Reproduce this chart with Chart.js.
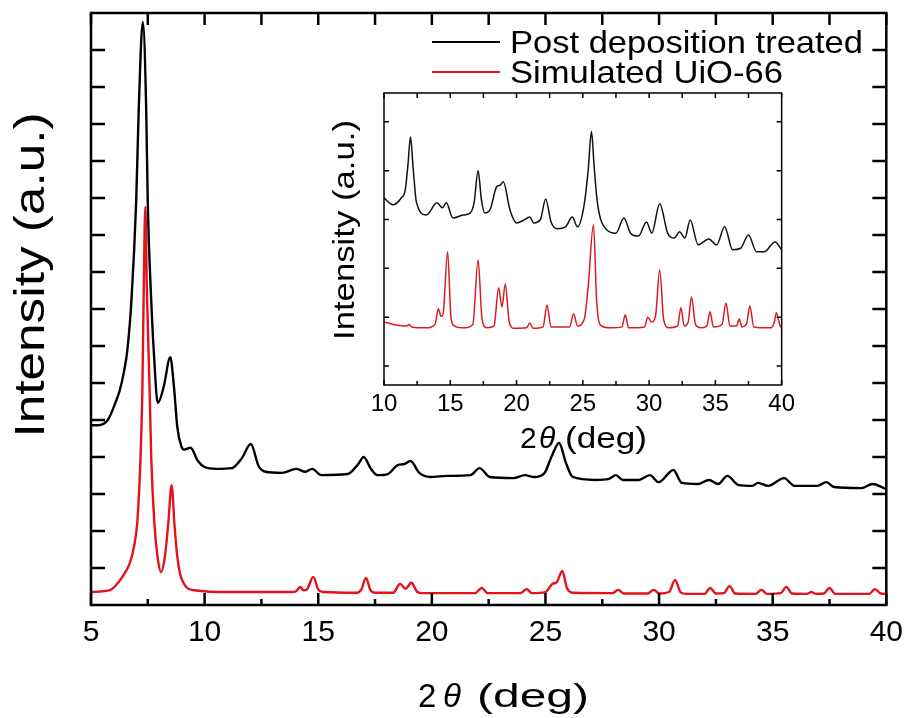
<!DOCTYPE html>
<html>
<head>
<meta charset="utf-8">
<script src="https://cdn.jsdelivr.net/npm/chart.js@4.4.1/dist/chart.umd.min.js"></script>
<style>
  body { margin: 0; background: #fff; }
  #wrap { position: relative; width: 913px; height: 718px; }
  #main { position: absolute; left: 0; top: 0; }
  #inset { position: absolute; left: 325px; top: 85px; }
</style>
</head>
<body>
<div id="wrap">
  <canvas id="main" width="913" height="718"></canvas>
  <canvas id="inset" width="475" height="370"></canvas>
</div>
<script>
const FONT = "'Liberation Sans', Arial, sans-serif";

// main panel: post deposition treated film (black)
const mainBlackX = [5.0, 5.3, 5.74, 6.12, 6.27, 6.45, 6.6, 6.78, 6.99, 7.1, 7.28, 7.43, 7.5, 7.65, 7.76, 7.94, 8.2, 8.49, 8.65, 8.8,
  8.97, 9.1, 9.38, 9.7, 10.0, 10.5, 11.2, 11.64, 12.03, 12.38, 12.68, 13.4, 14.04, 14.43, 14.74, 15.13, 16.3, 16.75, 17.0, 17.3,
  17.6, 18.06, 18.5, 18.8, 19.06, 19.45, 19.93, 20.68, 21.7, 22.1, 22.55, 23.6, 24.1, 24.5, 24.96, 25.26, 25.6, 25.9, 26.2, 27.2,
  27.8, 28.1, 28.4, 29.1, 29.6, 29.98, 30.63, 31.0, 31.7, 32.2, 32.6, 33.0, 33.5, 34.1, 34.35, 34.8, 35.5, 35.96, 36.96, 37.36,
  37.7, 38.9, 39.4, 39.9, 40.0];
const mainBlackY = [4.86, 4.86, 5.0, 5.54, 5.81, 6.3, 6.89, 8.24, 10.95, 13.38, 15.76, 13.38, 10.8, 8.24, 6.89, 5.46, 5.9, 6.7, 5.9, 4.8,
  4.3, 4.2, 4.25, 3.9, 3.73, 3.68, 3.7, 3.97, 4.35, 3.75, 3.6, 3.57, 3.68, 3.6, 3.68, 3.51, 3.54, 3.8, 4.0, 3.7,
  3.51, 3.54, 3.78, 3.81, 3.89, 3.57, 3.46, 3.49, 3.51, 3.7, 3.46, 3.43, 3.51, 3.46, 3.57, 4.0, 4.38, 3.84, 3.46, 3.38,
  3.41, 3.51, 3.38, 3.38, 3.51, 3.32, 3.65, 3.3, 3.27, 3.38, 3.27, 3.49, 3.24, 3.22, 3.3, 3.22, 3.43, 3.22, 3.22, 3.32,
  3.19, 3.16, 3.27, 3.16, 3.14];

// main panel: simulated UiO-66 (red)
const mainRedX = [5.0, 5.83, 6.05, 6.4, 6.7, 6.9, 7.04, 7.11, 7.18, 7.26, 7.32, 7.39, 7.46, 7.58, 7.65, 7.79, 7.93, 8.08, 8.25, 8.4,
  8.55, 8.67, 8.8, 8.96, 9.54, 11.2, 13.8, 14.05, 14.2, 14.35, 14.5, 14.78, 15.0, 15.2, 16.7, 16.9, 17.1, 17.3, 17.5, 18.3,
  18.6, 18.84, 19.1, 19.35, 19.6, 21.9, 22.2, 22.45, 23.9, 24.17, 24.4, 25.0, 25.3, 25.5, 25.74, 25.95, 26.2, 27.95, 28.2, 28.45,
  29.5, 29.76, 30.0, 30.45, 30.7, 30.95, 31.2, 32.0, 32.25, 32.5, 32.85, 33.1, 33.35, 34.25, 34.5, 34.75, 35.35, 35.6, 35.85, 36.5,
  36.7, 36.9, 37.25, 37.5, 37.75, 39.25, 39.5, 39.75, 40.0];
const mainRedY = [0.35, 0.4, 0.5, 0.78, 1.12, 1.6, 2.25, 3.0, 4.0, 5.8, 8.5, 10.76, 8.5, 5.8, 4.0, 2.2, 1.3, 0.89, 1.3, 2.2,
  3.24, 2.2, 1.3, 0.76, 0.4, 0.35, 0.35, 0.38, 0.49, 0.4, 0.42, 0.76, 0.42, 0.35, 0.33, 0.42, 0.73, 0.4, 0.33, 0.33,
  0.57, 0.44, 0.6, 0.36, 0.32, 0.32, 0.46, 0.32, 0.32, 0.43, 0.32, 0.35, 0.57, 0.62, 0.92, 0.45, 0.33, 0.32, 0.41, 0.31,
  0.31, 0.41, 0.31, 0.36, 0.68, 0.34, 0.3, 0.3, 0.46, 0.31, 0.32, 0.51, 0.31, 0.3, 0.41, 0.3, 0.32, 0.49, 0.31, 0.3,
  0.35, 0.3, 0.31, 0.46, 0.3, 0.3, 0.43, 0.31, 0.3];

// inset: 10-40 deg zoom
const insetBlackX = [10.0, 10.68, 11.3, 11.6, 11.8, 12.0, 12.2, 12.45, 13.2, 14.0, 14.4, 14.7, 15.2, 15.96, 16.5, 16.8, 17.1, 17.35, 17.6, 18.0,
  18.5, 18.75, 19.0, 19.5, 20.0, 20.5, 21.0, 21.3, 21.8, 22.2, 22.6, 23.1, 23.7, 24.2, 24.6, 25.1, 25.4, 25.65, 25.85, 26.1,
  26.8, 27.5, 28.1, 28.6, 29.2, 29.8, 30.2, 30.8, 31.4, 31.9, 32.3, 32.7, 33.1, 33.7, 34.5, 35.1, 35.7, 36.3, 36.9, 37.5,
  38.1, 38.7, 39.5, 40.0];
const insetBlackY = [3.44, 3.3, 3.44, 3.6, 4.1, 4.69, 4.05, 3.35, 3.09, 3.34, 3.24, 3.34, 3.03, 3.09, 3.13, 3.35, 4.0, 3.4, 3.13, 3.2,
  3.67, 3.7, 3.77, 3.2, 2.93, 2.98, 3.05, 2.93, 3.0, 3.42, 2.95, 2.81, 2.85, 3.05, 2.85, 3.3, 4.0, 4.8, 4.1, 3.34,
  2.79, 2.72, 3.03, 2.72, 2.66, 2.95, 2.72, 3.32, 2.72, 2.62, 2.75, 2.62, 2.99, 2.48, 2.6, 2.48, 2.85, 2.38, 2.41, 2.68,
  2.34, 2.34, 2.54, 2.38];
const insetRedX = [10.0, 10.9, 11.7, 11.9, 12.1, 13.2, 13.85, 14.1, 14.3, 14.45, 14.8, 15.05, 15.3, 16.0, 16.7, 17.1, 17.4, 17.8, 18.3, 18.65,
  18.9, 19.15, 19.45, 19.8, 20.75, 21.0, 21.25, 22.0, 22.3, 22.6, 24.0, 24.3, 24.6, 25.1, 25.4, 25.8, 26.05, 26.4, 27.0, 27.95,
  28.2, 28.45, 29.65, 29.9, 30.2, 30.5, 30.8, 31.1, 31.5, 32.15, 32.4, 32.65, 32.95, 33.2, 33.5, 33.9, 34.35, 34.6, 34.85, 35.5,
  35.8, 36.1, 36.6, 36.8, 37.0, 37.35, 37.6, 37.9, 39.2, 39.45, 39.6, 39.85, 40.0];
const insetRedY = [0.9, 0.84, 0.82, 0.85, 0.8, 0.78, 0.85, 1.17, 1.02, 1.05, 2.34, 1.0, 0.82, 0.78, 0.85, 2.17, 0.95, 0.78, 0.82, 1.6,
  1.21, 1.68, 0.9, 0.77, 0.78, 0.88, 0.77, 0.8, 1.25, 0.8, 0.8, 1.07, 0.82, 0.95, 1.62, 2.89, 1.3, 0.82, 0.78, 0.8,
  1.05, 0.78, 0.8, 1.0, 0.9, 1.05, 1.97, 0.95, 0.78, 0.82, 1.19, 0.82, 0.9, 1.41, 0.85, 0.78, 0.82, 1.11, 0.8, 0.85,
  1.29, 0.82, 0.82, 0.96, 0.8, 0.86, 1.23, 0.8, 0.78, 0.9, 1.09, 0.85, 0.78];

const seriesNames = ['Post deposition treated', 'Simulated UiO-66'];
const mainXTicks = [5, 10, 15, 20, 25, 30, 35, 40];
const mainYTicks = [1, 2, 3, 4, 5, 6, 7, 8, 9, 10, 11, 12, 13, 14, 15];
const insetXTicks = [10, 15, 20, 25, 30, 35, 40];
const insetYTicks = [0, 1, 2, 3, 4, 5];

const pts = (xs, ys) => xs.map((x, i) => ({ x: x, y: ys[i] }));

// frame + inward ticks on all four sides
const framePlugin = {
  id: 'frame',
  afterDatasetsDraw(chart, args, o) {
    const { ctx, chartArea: a, scales: { x, y } } = chart;
    ctx.save();
    ctx.strokeStyle = '#000';
    ctx.lineWidth = o.lineWidth;
    ctx.strokeRect(a.left, a.top, a.right - a.left, a.bottom - a.top);
    ctx.beginPath();
    o.xTicks.forEach((v, i) => {
      const px = x.getPixelForValue(v);
      ctx.moveTo(px, a.bottom); ctx.lineTo(px, a.bottom - o.xMajor);
      ctx.moveTo(px, a.top); ctx.lineTo(px, a.top + o.xTop);
      if (i < o.xTicks.length - 1) {
        const pm = x.getPixelForValue((v + o.xTicks[i + 1]) / 2);
        ctx.moveTo(pm, a.bottom); ctx.lineTo(pm, a.bottom - o.xMinor);
        ctx.moveTo(pm, a.top); ctx.lineTo(pm, a.top + o.xTop);
      }
    });
    o.yTicks.forEach(v => {
      const py = y.getPixelForValue(v);
      ctx.moveTo(a.left, py); ctx.lineTo(a.left + o.yLen, py);
      ctx.moveTo(a.right, py); ctx.lineTo(a.right - o.yLen, py);
    });
    ctx.stroke();
    ctx.restore();
  }
};

// axis titles: rotated y title and "2θ (deg)" with italic theta
const titlePlugin = {
  id: 'titles',
  afterDraw(chart, args, o) {
    const ctx = chart.ctx;
    ctx.save();
    ctx.fillStyle = '#000';
    ctx.font = o.ySize + 'px ' + FONT;
    const w = ctx.measureText('Intensity (a.u.)').width;
    ctx.translate(o.yCx, o.yCy);
    ctx.rotate(-Math.PI / 2);
    ctx.scale(o.yLen / w, 1);
    ctx.textAlign = 'center';
    ctx.textBaseline = 'middle';
    ctx.fillText('Intensity (a.u.)', 0, 0);
    ctx.restore();

    ctx.save();
    ctx.fillStyle = '#000';
    ctx.textBaseline = 'alphabetic';
    ctx.font = o.xSize + 'px ' + FONT;
    ctx.fillText('2', o.x2, o.xBase);
    ctx.font = 'italic ' + o.xSize + 'px ' + FONT;
    ctx.fillText('\u03B8', o.xTh, o.xBase);
    ctx.font = o.xSize + 'px ' + FONT;
    const dw = ctx.measureText('(deg)').width;
    ctx.translate(o.xDeg, o.xBase);
    ctx.scale(o.xDegW / dw, 1);
    ctx.fillText('(deg)', 0, 0);
    ctx.restore();
  }
};

// legend in the top right corner of the main panel
const legendPlugin = {
  id: 'cornerLegend',
  afterDraw(chart, args, o) {
    const ctx = chart.ctx;
    ctx.save();
    chart.data.datasets.forEach((ds, i) => {
      const yl = o.lineY[i];
      ctx.strokeStyle = ds.borderColor;
      ctx.lineWidth = 2;
      ctx.beginPath();
      ctx.moveTo(o.x0, yl); ctx.lineTo(o.x1, yl);
      ctx.stroke();
      ctx.fillStyle = '#000';
      ctx.font = o.size + 'px ' + FONT;
      ctx.textBaseline = 'alphabetic';
      const tw = ctx.measureText(ds.label).width;
      ctx.save();
      ctx.translate(o.tx, o.base[i]);
      ctx.scale(o.widths[i] / tw, 1);
      ctx.fillText(ds.label, 0, 0);
      ctx.restore();
    });
    ctx.restore();
  }
};

new Chart(document.getElementById('main'), {
  type: 'line',
  data: {
    datasets: [
      { label: seriesNames[0], data: pts(mainBlackX, mainBlackY), borderColor: '#000000', borderWidth: 2.4,
        pointRadius: 0, cubicInterpolationMode: 'monotone' },
      { label: seriesNames[1], data: pts(mainRedX, mainRedY), borderColor: '#e3121b', borderWidth: 2.4,
        pointRadius: 0, cubicInterpolationMode: 'monotone' }
    ]
  },
  options: {
    responsive: false,
    animation: false,
    layout: { padding: { left: 0, right: 20, top: 13, bottom: 0 } },
    plugins: {
      legend: { display: false },
      tooltip: { enabled: false },
      frame: { lineWidth: 2.5, xTicks: mainXTicks, yTicks: mainYTicks, xMajor: 12, xMinor: 6, xTop: 12, yLen: 14 },
      titles: { ySize: 42, yLen: 325, yCx: 32, yCy: 275, xSize: 33, x2: 418, xTh: 443, xDeg: 477, xDegW: 112, xBase: 707 },
      cornerLegend: { x0: 432, x1: 500, tx: 510, lineY: [42, 72], base: [53, 83], size: 32, widths: [353, 273] }
    },
    scales: {
      x: {
        type: 'linear', min: 5, max: 40,
        grid: { display: false, drawTicks: false }, border: { display: false },
        ticks: { stepSize: 5, padding: 10, maxRotation: 0, color: '#000', font: { family: FONT, size: 30 } },
        afterFit: s => { s.height = 113; }
      },
      y: {
        min: 0, max: 16,
        grid: { display: false, drawTicks: false }, border: { display: false },
        ticks: { display: false },
        afterFit: s => { s.width = 91; }
      }
    }
  },
  plugins: [framePlugin, titlePlugin, legendPlugin]
});

new Chart(document.getElementById('inset'), {
  type: 'line',
  data: {
    datasets: [
      { label: seriesNames[0], data: pts(insetBlackX, insetBlackY), borderColor: '#111111', borderWidth: 1.5,
        pointRadius: 0, cubicInterpolationMode: 'monotone' },
      { label: seriesNames[1], data: pts(insetRedX, insetRedY), borderColor: '#d91c24', borderWidth: 1.5,
        pointRadius: 0, cubicInterpolationMode: 'monotone' }
    ]
  },
  options: {
    responsive: false,
    animation: false,
    layout: { padding: { left: 0, right: 18, top: 8, bottom: 0 } },
    plugins: {
      legend: { display: false },
      tooltip: { enabled: false },
      frame: { lineWidth: 1.5, xTicks: insetXTicks, yTicks: insetYTicks, xMajor: 5, xMinor: 4, xTop: 5, yLen: 5 },
      titles: { ySize: 29, yLen: 220, yCx: 21, yCy: 145, xSize: 30, x2: 195, xTh: 214, xDeg: 240, xDegW: 82, xBase: 363 }
    },
    scales: {
      x: {
        type: 'linear', min: 10, max: 40,
        grid: { display: false, drawTicks: false }, border: { display: false },
        ticks: { stepSize: 5, padding: 5, maxRotation: 0, color: '#000', font: { family: FONT, size: 24 } },
        afterFit: s => { s.height = 70; }
      },
      y: {
        min: -0.39, max: 5.59,
        grid: { display: false, drawTicks: false }, border: { display: false },
        ticks: { display: false },
        afterFit: s => { s.width = 59; }
      }
    }
  },
  plugins: [framePlugin, titlePlugin]
});
</script>
</body>
</html>
